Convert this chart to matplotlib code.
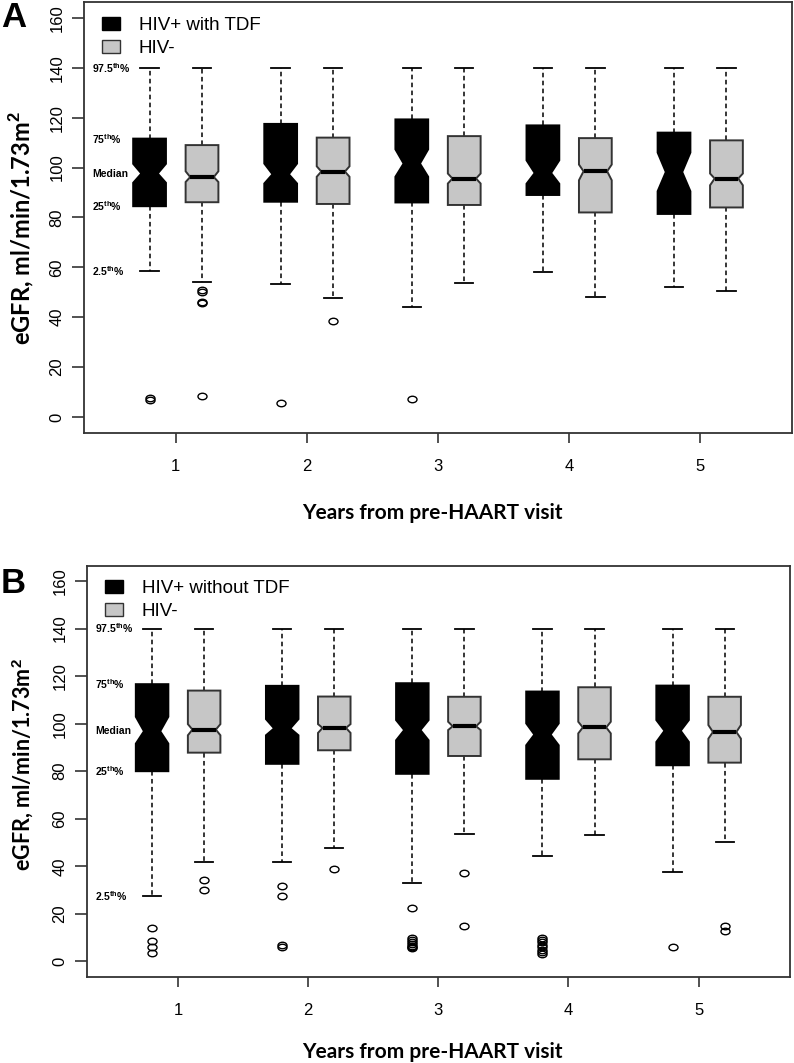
import matplotlib
matplotlib.use("Agg")
import matplotlib.pyplot as plt
from matplotlib.patches import Patch
from matplotlib.path import Path
from matplotlib.transforms import Affine2D
from matplotlib import font_manager

#%% data
years = [1, 2, 3, 4, 5]
yticks = [0, 20, 40, 60, 80, 100, 120, 140, 160]
pct_labels = ["97.5$^{\\mathbf{th}}$%", "75$^{\\mathbf{th}}$%", "Median",
              "25$^{\\mathbf{th}}$%", "2.5$^{\\mathbf{th}}$%"]

# panel A, HIV+ with TDF
a_tdf_lo = [58.6, 53.3, 44.2, 58.1, 52.1]
a_tdf_q1 = [84.5, 86.3, 86.0, 89.0, 81.4]
a_tdf_cilo = [93.9, 93.6, 96.3, 93.5, 90.5]
a_tdf_med = [97.6, 97.3, 101.6, 97.8, 98.2]
a_tdf_cihi = [101.5, 101.6, 107.3, 102.9, 106.0]
a_tdf_q3 = [111.6, 117.5, 119.3, 116.9, 114.0]
a_tdf_hi = [140, 140, 140, 140, 140]
a_tdf_out = [[7.5, 6.9], [5.7], [7.1], [], []]

# panel A, HIV-
a_neg_lo = [54.2, 47.6, 53.8, 48.3, 50.4]
a_neg_q1 = [86.1, 85.4, 85.0, 82.0, 84.0]
a_neg_cilo = [94.2, 96.3, 93.6, 94.9, 92.9]
a_neg_med = [96.2, 98.4, 95.6, 98.5, 95.6]
a_neg_cihi = [98.5, 100.5, 97.6, 101.2, 97.6]
a_neg_q3 = [109.0, 112.0, 112.6, 111.8, 110.9]
a_neg_hi = [140, 140, 140, 140, 140]
a_neg_out = [[51.1, 50.1, 46.1, 45.5, 8.4], [38.6], [], [], []]

# panel B, HIV+ without TDF
b_notdf_lo = [27.6, 41.7, 33.0, 44.3, 37.8]
b_notdf_q1 = [80.0, 83.1, 78.9, 76.8, 82.5]
b_notdf_cilo = [91.6, 95.1, 93.0, 90.9, 92.3]
b_notdf_med = [96.8, 98.0, 97.3, 95.4, 97.0]
b_notdf_cihi = [102.9, 101.9, 101.5, 100.1, 101.5]
b_notdf_q3 = [116.6, 115.9, 117.0, 113.5, 116.0]
b_notdf_hi = [140, 140, 140, 140, 140]
b_notdf_out = [[14.2, 8.5, 6.1, 3.5],
               [31.7, 27.6, 6.8, 6.2],
               [22.6, 9.9, 9.0, 8.2, 7.4, 6.6, 6.0, 5.5],
               [9.9, 9.0, 8.0, 7.0, 6.0, 5.0, 4.0, 3.0],
               [6.1]]

# panel B, HIV-
b_neg_lo = [41.7, 47.8, 53.4, 53.0, 50.3]
b_neg_q1 = [87.8, 88.8, 86.4, 85.0, 83.6]
b_neg_cilo = [95.1, 96.1, 97.3, 95.9, 93.7]
b_neg_med = [97.5, 98.2, 98.9, 98.4, 96.5]
b_neg_cihi = [99.8, 99.8, 100.8, 100.8, 99.4]
b_neg_q3 = [113.9, 111.4, 111.3, 115.3, 111.3]
b_neg_hi = [140, 140, 140, 140, 140]
b_neg_out = [[34.3, 29.9], [39.0], [37.3, 15.1], [], [14.8, 12.7]]

#%% style
gray = "#c6c6c6"
edge_dark = "#333333"
half_w = 0.125
cap_w = 0.07
shift = 0.2

names = {f.name for f in font_manager.fontManager.ttflist}
label_font = "Lato" if "Lato" in names else "DejaVu Sans"

plt.rcParams["font.family"] = ["Liberation Sans", "DejaVu Sans"]
plt.rcParams["mathtext.fontset"] = "custom"
plt.rcParams["mathtext.bf"] = "Liberation Sans:bold"

# R style open circle, a bit squashed like the scanned figure
ell = Path.unit_circle().transformed(Affine2D().scale(1.0, 0.72))


def draw_group(ax, xs, lo, q1, cilo, med, cihi, q3, hi, out, face, edge, frac):
    for i, x in enumerate(xs):
        # whiskers
        ax.plot([x, x], [q3[i], hi[i]], color="black", lw=1.1,
                dashes=(3, 2.2), zorder=2)
        ax.plot([x, x], [q1[i], lo[i]], color="black", lw=1.1,
                dashes=(3, 2.2), zorder=2)
        ax.plot([x - cap_w, x + cap_w], [hi[i], hi[i]], color="black", lw=1.3, zorder=2)
        ax.plot([x - cap_w, x + cap_w], [lo[i], lo[i]], color="black", lw=1.3, zorder=2)
        # notched box
        l, r = x - half_w, x + half_w
        nl, nr = x - half_w * frac, x + half_w * frac
        bx = [l, r, r, nr, r, r, l, l, nl, l, l]
        by = [q1[i], q1[i], cilo[i], med[i], cihi[i], q3[i], q3[i], cihi[i], med[i], cilo[i], q1[i]]
        ax.fill(bx, by, facecolor=face, edgecolor=edge, lw=1.4, zorder=3)
        ax.plot([nl, nr], [med[i], med[i]], color="black", lw=3,
                solid_capstyle="butt", zorder=4)
        if out[i]:
            ax.plot([x] * len(out[i]), out[i], ls="none", marker=ell, ms=6.5,
                    mfc="none", mec="black", mew=1.0, zorder=3)


def setup_axes(ax, label_pos, ylab_size, pos_name):
    ax.set_xlim(0.3, 5.7)
    ax.set_ylim(-6.4, 166.4)
    ax.set_xticks(years)
    ax.set_yticks(yticks)
    ax.tick_params(axis="x", length=7, width=1.2, pad=12, labelsize=12, color=edge_dark)
    ax.tick_params(axis="y", length=9, width=1.2, pad=5, labelsize=12, color=edge_dark)
    for lab in ax.get_yticklabels():
        lab.set_rotation(90)
        lab.set_va("center")
    for sp in ax.spines.values():
        sp.set_color(edge_dark)
        sp.set_linewidth(1.3)
    ax.set_ylabel("eGFR, ml/min/1.73m$^{\\mathbf{2}}$", fontsize=ylab_size,
                  fontweight="bold", family=[label_font, "DejaVu Sans"])
    ax.yaxis.set_label_coords(label_pos[0], label_pos[1])
    ax.set_xlabel("Years from pre-HAART visit", fontsize=15, fontweight="bold",
                  family=[label_font, "DejaVu Sans"])
    ax.xaxis.set_label_coords(label_pos[2], label_pos[3])
    handles = [Patch(facecolor="black", edgecolor="black"),
               Patch(facecolor=gray, edgecolor=edge_dark)]
    ax.legend(handles, [pos_name, "HIV-"], loc="upper left", bbox_to_anchor=(0.026, 0.965),
              frameon=False, fontsize=13.5, handlelength=0.95, handleheight=0.7,
              handletextpad=1.0, labelspacing=0.3, borderpad=0, borderaxespad=0)


def pct_text(ax, vals):
    for lab, v in zip(pct_labels, vals):
        ax.text(0.36, v, lab, fontsize=7.5, fontweight="bold",
                ha="left", va="center", zorder=5)


fig = plt.figure(figsize=(7.94, 10.63), dpi=100)
ax_a = fig.add_axes([0.1058, 0.5927, 0.8917, 0.4055])
ax_b = fig.add_axes([0.1096, 0.0812, 0.8850, 0.3866])

x_left = [y - shift for y in years]
x_right = [y + shift for y in years]

#%% panel A
draw_group(ax_a, x_left, a_tdf_lo, a_tdf_q1, a_tdf_cilo, a_tdf_med, a_tdf_cihi,
           a_tdf_q3, a_tdf_hi, a_tdf_out, "black", "black", 0.5)
draw_group(ax_a, x_right, a_neg_lo, a_neg_q1, a_neg_cilo, a_neg_med, a_neg_cihi,
           a_neg_q3, a_neg_hi, a_neg_out, gray, edge_dark, 0.72)
setup_axes(ax_a, (-0.066, 0.476, 0.492, -0.162), 17, "HIV+ with TDF")
pct_text(ax_a, [a_tdf_hi[0], a_tdf_q3[0], a_tdf_med[0], a_tdf_q1[0], a_tdf_lo[0]])

#%% panel B
draw_group(ax_b, x_left, b_notdf_lo, b_notdf_q1, b_notdf_cilo, b_notdf_med, b_notdf_cihi,
           b_notdf_q3, b_notdf_hi, b_notdf_out, "black", "black", 0.5)
draw_group(ax_b, x_right, b_neg_lo, b_neg_q1, b_neg_cilo, b_neg_med, b_neg_cihi,
           b_neg_q3, b_neg_hi, b_neg_out, gray, edge_dark, 0.72)
setup_axes(ax_b, (-0.072, 0.516, 0.492, -0.158), 15.5, "HIV+ without TDF")
pct_text(ax_b, [b_notdf_hi[0], b_notdf_q3[0], b_notdf_med[0], b_notdf_q1[0], b_notdf_lo[0]])

fig.text(0.017, 0.984, "A", fontsize=25, fontweight="bold", ha="center", va="center")
fig.text(0.017, 0.451, "B", fontsize=25, fontweight="bold", ha="center", va="center")

fig.savefig("out.png", dpi=100)
